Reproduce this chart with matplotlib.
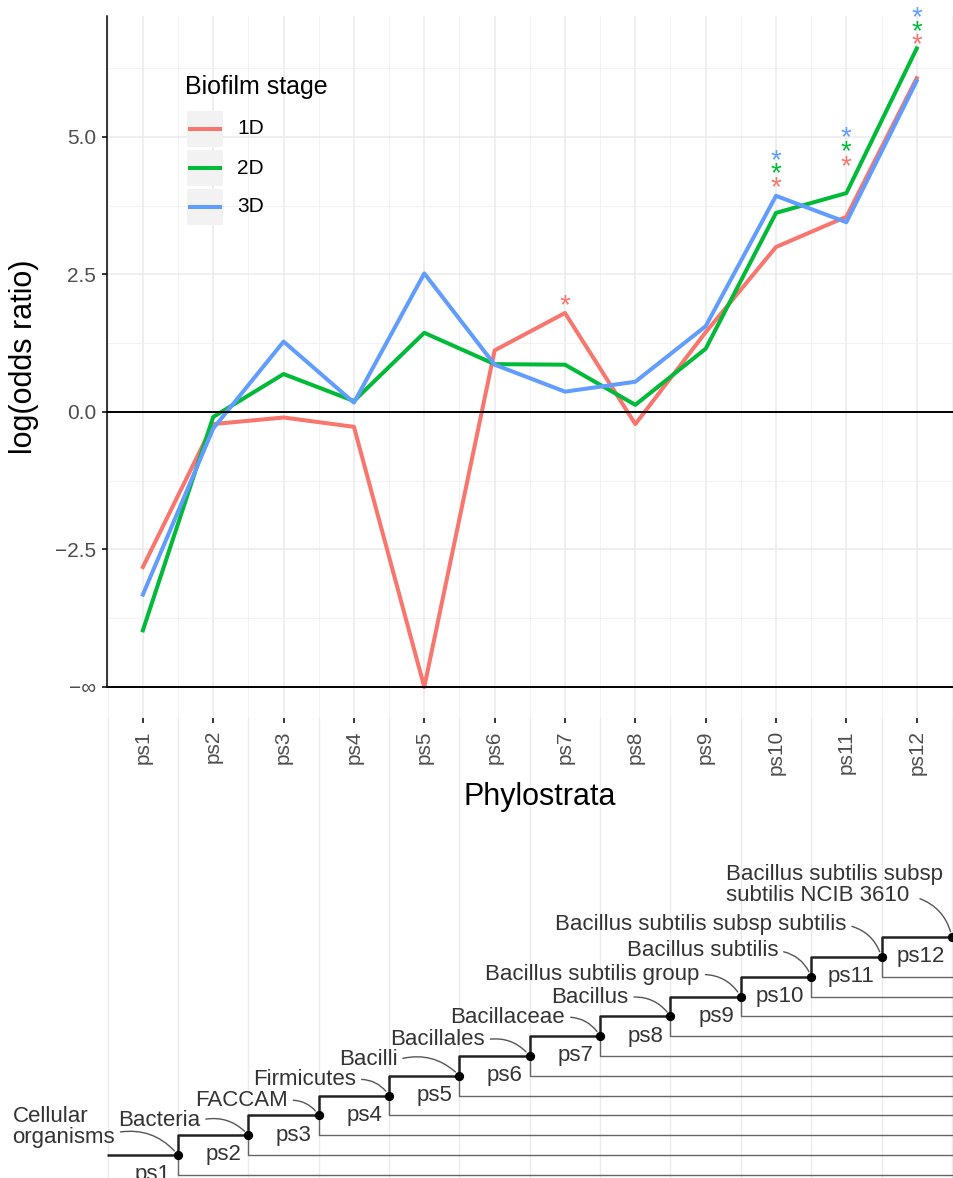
import numpy as np
import matplotlib
matplotlib.use('Agg')
import matplotlib.pyplot as plt
from matplotlib.patches import Rectangle
from matplotlib.lines import Line2D
from matplotlib import transforms

plt.rcParams['font.family'] = ['Liberation Sans', 'DejaVu Sans']

# data
phylostrata = ['ps1', 'ps2', 'ps3', 'ps4', 'ps5', 'ps6',
               'ps7', 'ps8', 'ps9', 'ps10', 'ps11', 'ps12']
stages = ['1D', '2D', '3D']
colors = ['#F8766D', '#00BA38', '#619CFF']

or_1d = [-2.82, -0.22, -0.10, -0.27, -np.inf, 1.12, 1.80, -0.22, 1.45, 3.00, 3.55, 6.07]
or_2d = [-3.97, -0.09, 0.69, 0.20, 1.44, 0.87, 0.86, 0.13, 1.15, 3.62, 3.98, 6.61]
or_3d = [-3.32, -0.30, 1.28, 0.17, 2.52, 0.86, 0.37, 0.55, 1.56, 3.93, 3.45, 6.02]

# significant phylostrata and where their stars sit
sig_1d = ['ps7', 'ps10', 'ps11', 'ps12']
sig_2d = ['ps10', 'ps11', 'ps12']
sig_3d = ['ps10', 'ps11', 'ps12']
star_1d = [2.09, 4.23, 4.61, 6.83]
star_2d = [4.48, 4.88, 7.07]
star_3d = [4.73, 5.15, 7.32]

taxa = ['Cellular\norganisms', 'Bacteria', 'FACCAM', 'Firmicutes', 'Bacilli',
        'Bacillales', 'Bacillaceae', 'Bacillus', 'Bacillus subtilis group',
        'Bacillus subtilis', 'Bacillus subtilis subsp subtilis',
        'Bacillus subtilis subsp\nsubtilis NCIB 3610']

NEG_INF = -5  # where -inf is drawn

W, H = 954, 1178
fig = plt.figure(figsize=(W / 100, H / 100), dpi=100)


def box(x0, y0, x1, y1):
    return [x0 / W, 1 - y1 / H, (x1 - x0) / W, (y1 - y0) / H]


# ---- top panel: log odds ratios ----
ax = fig.add_axes(box(107, 16, 954, 718))
xpos = np.arange(1, len(phylostrata) + 1)
ax.set_xlim(0.49, 12.53)
ax.set_ylim(-5.564, 7.2)

ax.set_xticks(xpos)
ax.set_xticklabels(phylostrata, rotation=90, fontsize=15)
ax.set_xticks(np.arange(0.5, 13, 1), minor=True)
ax.set_yticks([-5, -2.5, 0, 2.5, 5])
ax.set_yticklabels(['\u2212\u221e', '\u22122.5', '0.0', '2.5', '5.0'], fontsize=15)
ax.set_yticks([-3.75, -1.25, 1.25, 3.75, 6.25], minor=True)
ax.tick_params(which='major', length=3.7, width=1.1, color='black',
               labelcolor='#4d4d4d', pad=4)
ax.tick_params(axis='x', which='major', pad=5)
ax.tick_params(which='minor', length=0)
ax.grid(which='major', color='#ebebeb', lw=1.1, zorder=0)
ax.grid(which='minor', color='#f2f2f2', lw=0.7, zorder=0)
ax.set_axisbelow(True)
for s in ['top', 'right', 'bottom']:
    ax.spines[s].set_visible(False)
ax.spines['left'].set_bounds(NEG_INF, 7.2)
ax.spines['left'].set_linewidth(1.1)

series = [or_1d, or_2d, or_3d]
for vals, col in zip(series, colors):
    v = np.array(vals, dtype=float)
    v = np.where(np.isinf(v), NEG_INF, v)
    ax.plot(xpos, v, color=col, lw=2.9, zorder=2)

ax.axhline(0, color='black', lw=1.4, zorder=3)
ax.axhline(NEG_INF, color='black', lw=1.4, zorder=3)

star_fs = 20
star_tr = transforms.offset_copy(ax.transData, fig=fig, y=-0.575 * star_fs * 100 / 72, units='dots')
for sig, ys, col in zip([sig_1d, sig_2d, sig_3d], [star_1d, star_2d, star_3d], colors):
    for p, yv in zip(sig, ys):
        ax.text(phylostrata.index(p) + 1, yv, '*', transform=star_tr, ha='center',
                va='baseline', color=col, fontsize=star_fs, clip_on=False, zorder=4)

# legend
fig.text(185 / W, 1 - 87 / H, 'Biofilm stage', fontsize=18, ha='left', va='center')
for i, (stage, col) in enumerate(zip(stages, colors)):
    yc = 129 + 39 * i
    fig.add_artist(Rectangle((187 / W, 1 - (yc + 18) / H), 36 / W, 36 / H,
                             transform=fig.transFigure, facecolor='#f2f2f2', edgecolor='none'))
    fig.add_artist(Line2D([190 / W, 220 / W], [1 - yc / H] * 2, color=col, lw=2.9,
                          transform=fig.transFigure))
    fig.text(237 / W, 1 - yc / H, stage, fontsize=15, ha='left', va='center')

fig.text(24 / W, 1 - 357 / H, 'log(odds ratio)', rotation=90, fontsize=22,
         ha='center', va='center')
fig.text(540 / W, 1 - 805 / H, 'Phylostrata', fontsize=22, ha='center', va='baseline')

# ---- bottom panel: taxonomy ladder ----
tx = fig.add_axes(box(107, 718, 954, 1178))
tx.set_xlim(0.49, 12.53)
tx.set_ylim(-0.162, 23.07)
tx.axis('off')
tx.patch.set_alpha(0)
for x in np.arange(0.5, 13, 1):
    tx.axvline(x, color='#ebebeb', lw=1.0, zorder=0)

node_x = xpos + 0.5
node_y = xpos.astype(float)
xmin, xmax = tx.get_xlim()
trunk = dict(color='#222222', lw=1.8, solid_capstyle='butt', zorder=2)
leaf = dict(color='#666666', lw=1.0, solid_capstyle='butt', zorder=1)

tx.plot([xmin, node_x[0]], [node_y[0], node_y[0]], **trunk)
for k in range(len(node_x) - 1):
    tx.plot([node_x[k], node_x[k], node_x[k + 1]],
            [node_y[k], node_y[k + 1], node_y[k + 1]], **trunk)
    tx.plot([node_x[k], node_x[k], xmax],
            [node_y[k], node_y[k] - 1, node_y[k] - 1], **leaf)
tx.scatter(node_x, node_y, s=32, color='black', zorder=5, clip_on=False)

for k, p in enumerate(phylostrata):
    tx.annotate(p, (node_x[k], node_y[k] - 1), xytext=(-7, 0),
                textcoords='offset pixels', ha='right', va='center',
                fontsize=16, color='#333333', annotation_clip=False)

# label offsets from their node (pixels) and connector start on the label box
lab_off = [(-63, 28), (-48, 15), (-31, 15), (-33, 16), (-62, 16), (-45, 16),
           (-35, 19), (-42, 19), (-41, 22), (-33, 26), (-35, 32), (-9, 52)]
lab_rel = [(1, 0.36)] + [(1, 0.5)] * 10 + [(0.87, 0.22)]
for k, name in enumerate(taxa):
    tx.annotate(name, (node_x[k], node_y[k]), xytext=lab_off[k],
                textcoords='offset pixels', ha='right', va='center',
                multialignment='left', linespacing=1.0,
                fontsize=16, color='#333333', annotation_clip=False,
                arrowprops=dict(arrowstyle='-', color='#555555', lw=1.0,
                                connectionstyle='arc3,rad=-0.3', patchA=None,
                                relpos=lab_rel[k], shrinkA=4, shrinkB=4))

fig.savefig('out.png', dpi=100)
